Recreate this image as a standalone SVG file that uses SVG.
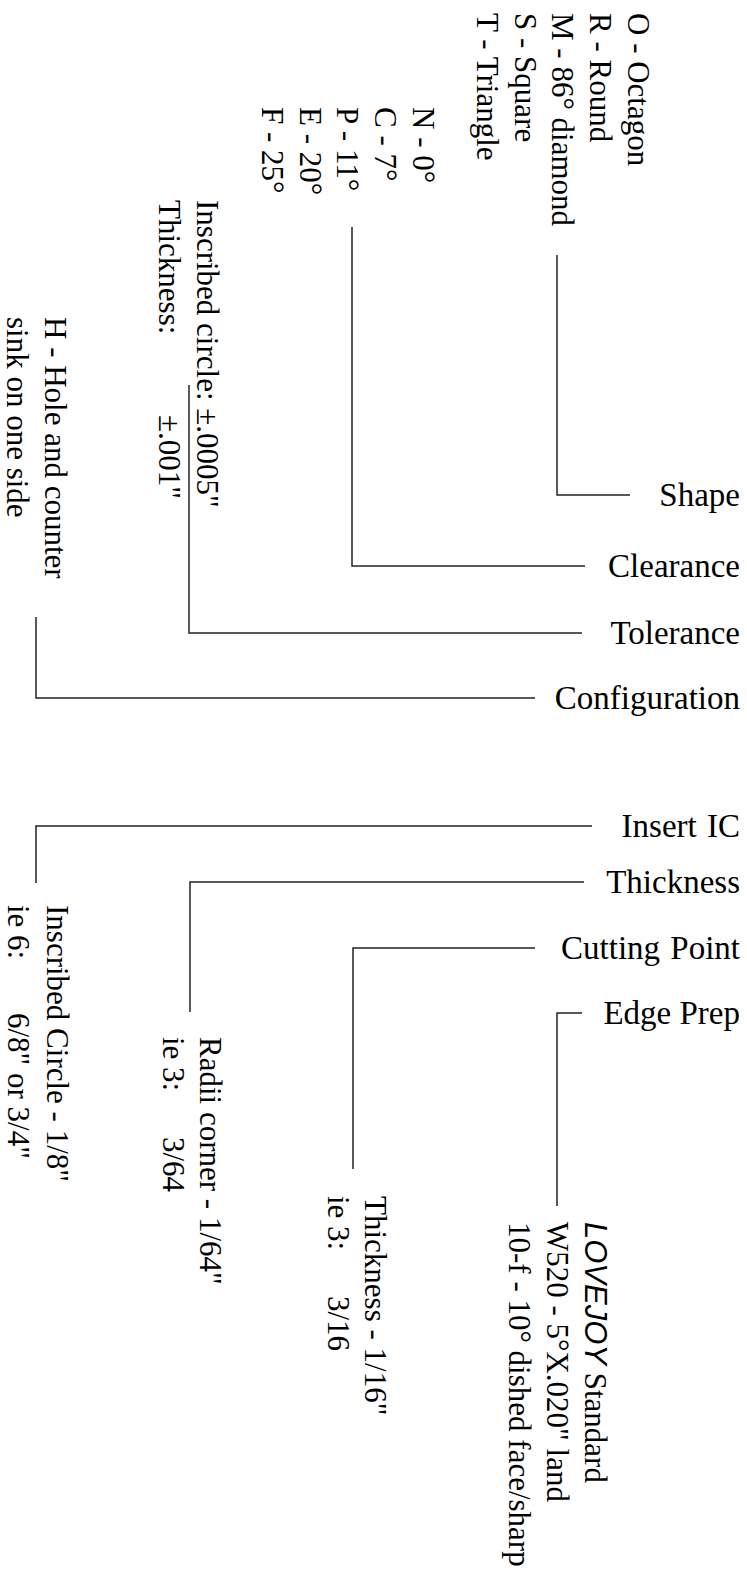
<svg xmlns="http://www.w3.org/2000/svg" width="747" height="1575" viewBox="0 0 747 1575">
<style>
text{font-family:"Liberation Serif","Times New Roman",serif;font-size:31px;fill:#000}
.lbl{text-anchor:end;font-size:33px}
.conn{fill:none;stroke:#222;stroke-width:1.5}
.sans{font-family:"Liberation Sans",Arial,sans-serif;font-style:italic}
</style>
<rect width="747" height="1575" fill="#fff"/>
<g id="connectors">
<path class="conn" d="M557,255 V495 H630"/>
<path class="conn" d="M352,227 V566 H585"/>
<path class="conn" d="M189,385 V633 H582"/>
<path class="conn" d="M36,617 V698 H535"/>
<path class="conn" d="M36,883 V826 H592"/>
<path class="conn" d="M190,1012 V882 H584"/>
<path class="conn" d="M353,1169 V948 H535"/>
<path class="conn" d="M557,1206 V1013 H582"/>
</g>
<g id="shape">
<text class="lbl" x="740" y="506">Shape</text>
<text transform="translate(628,13) rotate(90)"><tspan x="0" y="0">O - Octagon</tspan><tspan x="0" dy="37.8">R - Round</tspan><tspan x="0" dy="37.8">M - 86° diamond</tspan><tspan x="0" dy="37.8">S - Square</tspan><tspan x="0" dy="37.8">T - Triangle</tspan></text>
</g>
<g id="clearance">
<text class="lbl" x="740" y="577">Clearance</text>
<text transform="translate(413,107) rotate(90)"><tspan x="0" y="0">N - 0°</tspan><tspan x="0" dy="37.8">C - 7°</tspan><tspan x="0" dy="37.8">P - 11°</tspan><tspan x="0" dy="37.8">E - 20°</tspan><tspan x="0" dy="37.8">F - 25°</tspan></text>
</g>
<g id="tolerance">
<text class="lbl" x="740" y="644">Tolerance</text>
<text transform="translate(197,200) rotate(90)"><tspan x="0" y="0">Inscribed circle: ±.0005"</tspan><tspan x="0" y="38">Thickness:</tspan><tspan x="215" y="38">±.001"</tspan></text>
</g>
<g id="configuration">
<text class="lbl" x="740" y="709">Configuration</text>
<text transform="translate(45,317) rotate(90)"><tspan x="0" y="0">H - Hole and counter</tspan><tspan x="0" y="38">sink on one side</tspan></text>
</g>
<g id="insert-ic">
<text class="lbl" x="740" y="837" word-spacing="2">Insert IC</text>
<text transform="translate(47,905) rotate(90)"><tspan x="0" y="0">Inscribed Circle - 1/8"</tspan><tspan x="0" y="39">ie 6:</tspan><tspan x="108" y="39">6/8" or 3/4"</tspan></text>
</g>
<g id="thickness">
<text class="lbl" x="740" y="893">Thickness</text>
<text transform="translate(200,1037) rotate(90)"><tspan x="0" y="0">Radii corner - 1/64"</tspan><tspan x="0" y="37">ie 3:</tspan><tspan x="100" y="37">3/64</tspan></text>
</g>
<g id="cutting-point">
<text class="lbl" x="740" y="959" word-spacing="2">Cutting Point</text>
<text transform="translate(365,1196) rotate(90)"><tspan x="0" y="0">Thickness - 1/16"</tspan><tspan x="0" y="37">ie 3:</tspan><tspan x="100" y="37">3/16</tspan></text>
</g>
<g id="edge-prep">
<text class="lbl" x="740" y="1024">Edge Prep</text>
<text transform="translate(585,1222) rotate(90)"><tspan x="0" y="0" class="sans">LOVEJOY</tspan><tspan> Standard</tspan><tspan x="0" y="38">W520 - 5°X.020" land</tspan><tspan x="0" y="76">10-f - 10° dished face/sharp</tspan></text>
</g>
</svg>
